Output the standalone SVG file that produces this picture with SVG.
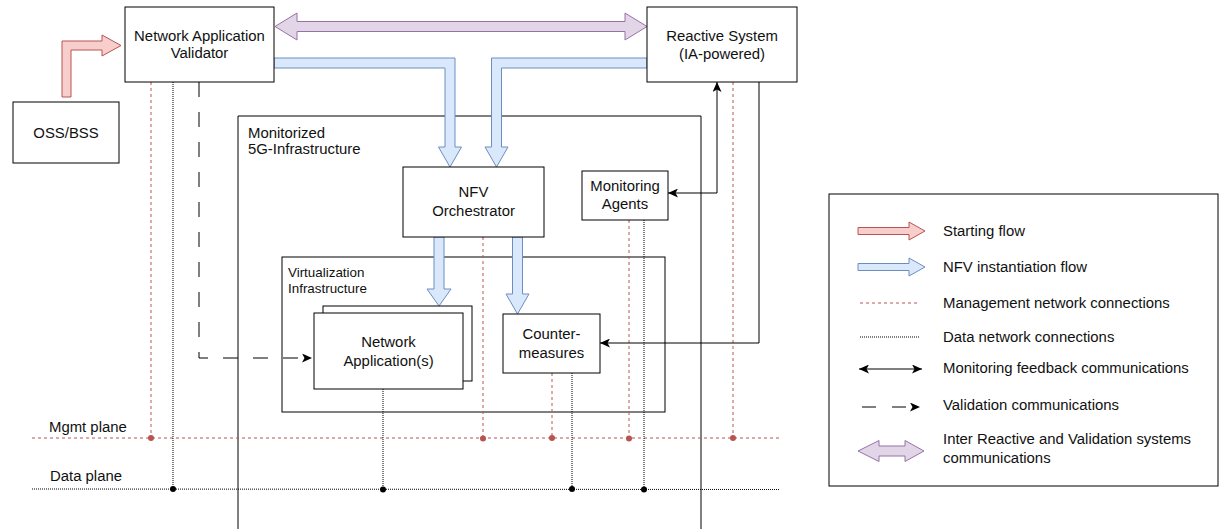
<svg xmlns="http://www.w3.org/2000/svg" width="1219" height="529" viewBox="0 0 1219 529">
<defs>
<style>
text{font-family:"Liberation Sans",Arial,Helvetica,sans-serif;font-size:14.9px;fill:#111}
.c{text-anchor:middle}
.sm{font-size:13.4px}
.box{fill:#fff;stroke:#000;stroke-width:1}
.frame{fill:none;stroke:#000;stroke-width:1}
.red{fill:#f8cecc;stroke:#b85450;stroke-width:1}
.blue{fill:#dae8fc;stroke:#6c8ebf;stroke-width:1}
.purple{fill:#e1d5e7;stroke:#9673a6;stroke-width:1}
.mg{fill:none;stroke:#b85450;stroke-width:1;stroke-dasharray:3 3}
.dt{fill:none;stroke:#000;stroke-width:1;stroke-dasharray:1 1}
.fb{fill:none;stroke:#000;stroke-width:1}
.val{fill:none;stroke:#000;stroke-width:1;stroke-dasharray:15 15}
.rdot{fill:#b85450}
.bdot{fill:#000}
</style>
<marker id="ah" viewBox="0 0 10 9" refX="10" refY="4.5" markerWidth="10" markerHeight="9" markerUnits="userSpaceOnUse" orient="auto-start-reverse">
<path d="M0,0 L10,4.5 L0,9 L2.5,4.5 Z" fill="#000"/>
</marker>
</defs>

<g id="monitorized-5g-infrastructure">
<path class="frame" d="M238,540 V116 H701 V540"/>
<text x="248" y="138">Monitorized</text>
<text x="248" y="154">5G-Infrastructure</text>
</g>

<g id="virtualization-infrastructure">
<rect class="frame" x="282" y="257" width="383" height="155"/>
<text class="sm" x="288" y="277">Virtualization</text>
<text class="sm" x="288" y="293">Infrastructure</text>
</g>

<g id="connectors">
<line class="mg" x1="32" y1="438" x2="779" y2="438"/>
<line class="mg" x1="151" y1="82" x2="151" y2="438"/>
<line class="mg" x1="483" y1="237" x2="483" y2="438"/>
<line class="mg" x1="552" y1="373" x2="552" y2="438"/>
<line class="mg" x1="629" y1="220" x2="629" y2="438"/>
<line class="mg" x1="733" y1="82" x2="733" y2="438"/>
<circle class="rdot" cx="151" cy="438" r="3"/>
<circle class="rdot" cx="483" cy="438.5" r="3"/>
<circle class="rdot" cx="552" cy="438" r="3"/>
<circle class="rdot" cx="629" cy="438.5" r="3"/>
<circle class="rdot" cx="733" cy="438" r="3"/>
<line class="dt" x1="32" y1="489" x2="780" y2="489.5"/>
<line class="dt" x1="173" y1="82" x2="173" y2="489"/>
<line class="dt" x1="383" y1="389" x2="383" y2="489"/>
<line class="dt" x1="572" y1="373" x2="572" y2="489"/>
<line class="dt" x1="644" y1="220" x2="644" y2="489"/>
<circle class="bdot" cx="173" cy="489" r="3"/>
<circle class="bdot" cx="383" cy="489.5" r="3"/>
<circle class="bdot" cx="572" cy="489" r="3"/>
<circle class="bdot" cx="644" cy="489.5" r="3"/>
<path class="val" d="M199,82 V358 H312" marker-end="url(#ah)"/>
<path class="fb" d="M668,193 H717 V82" marker-start="url(#ah)" marker-end="url(#ah)"/>
<path class="fb" d="M759,82 V343 H600" marker-end="url(#ah)"/>
<polygon class="red" points="62,97 62,41 102,41 102,35 121,45.5 102,56 102,50 71,50 71,97"/>
<polygon class="purple" points="275,26.5 297,13 297,21.5 625,21.5 625,13 647,26.5 625,40 625,31.5 297,31.5 297,40"/>
<polygon class="blue" points="274,58 455,58 455,147 461.5,147 450,167 438.5,147 445,147 445,68 274,68"/>
<polygon class="blue" points="647,58 491.5,58 491.5,147 485,147 496.5,167 508,147 501.5,147 501.5,68 647,68"/>
<polygon class="blue" points="434,237 444,237 444,289 451,289 439,306 427,289 434,289"/>
<polygon class="blue" points="512.5,237 522.5,237 522.5,294 529,294 517.5,314 506,294 512.5,294"/>
</g>

<g id="network-application-validator">
<rect class="box" x="125" y="7" width="149" height="75"/>
<text class="c" x="199.5" y="41">Network Application</text>
<text class="c" x="199.5" y="58">Validator</text>
</g>

<g id="reactive-system">
<rect class="box" x="647" y="7" width="150" height="75"/>
<text class="c" x="722" y="41">Reactive System</text>
<text class="c" x="722" y="59">(IA-powered)</text>
</g>

<g id="oss-bss">
<rect class="box" x="13" y="102" width="106" height="61"/>
<text class="c" x="66" y="138">OSS/BSS</text>
</g>

<g id="nfv-orchestrator">
<rect class="box" x="403" y="167" width="141" height="70"/>
<text class="c" x="473.5" y="197">NFV</text>
<text class="c" x="473.5" y="216">Orchestrator</text>
</g>

<g id="monitoring-agents">
<rect class="box" x="582" y="171" width="86" height="49"/>
<text class="c" x="625" y="191">Monitoring</text>
<text class="c" x="625" y="209">Agents</text>
</g>

<g id="network-applications">
<rect class="box" x="323" y="306" width="149" height="75"/>
<rect class="box" x="314" y="313" width="149" height="76"/>
<text class="c" x="388.5" y="347">Network</text>
<text class="c" x="388.5" y="366">Application(s)</text>
</g>

<g id="counter-measures">
<rect class="box" x="503" y="314" width="97" height="59"/>
<text class="c" x="551.5" y="339">Counter-</text>
<text class="c" x="551.5" y="358">measures</text>
</g>

<g id="plane-labels">
<text x="49" y="432">Mgmt plane</text>
<text x="50" y="481">Data plane</text>
</g>

<g id="legend">
<rect class="frame" x="829" y="194" width="389" height="292"/>
<polygon class="red" points="858,227.5 909,227.5 909,222 925,231 909,240 909,234.5 858,234.5"/>
<text x="943" y="236">Starting flow</text>
<polygon class="blue" points="858,263.5 909,263.5 909,258 925,267 909,276 909,270.5 858,270.5"/>
<text x="943" y="272">NFV instantiation flow</text>
<line class="mg" x1="860" y1="303" x2="917" y2="303"/>
<text x="943" y="308">Management network connections</text>
<line class="dt" x1="860" y1="337" x2="919" y2="337"/>
<text x="943" y="342">Data network connections</text>
<line class="fb" x1="859" y1="369" x2="922" y2="369" marker-start="url(#ah)" marker-end="url(#ah)"/>
<text x="943" y="373">Monitoring feedback communications</text>
<line x1="862" y1="407" x2="920" y2="407" stroke="#000" stroke-width="1" stroke-dasharray="14 16" marker-end="url(#ah)"/>
<text x="943" y="410">Validation communications</text>
<polygon class="purple" points="858,451 879,440.5 879,446 905,446 905,440.5 924,451 905,461.5 905,456 879,456 879,461.5"/>
<text x="943" y="444">Inter Reactive and Validation systems</text>
<text x="943" y="463">communications</text>
</g>
</svg>
